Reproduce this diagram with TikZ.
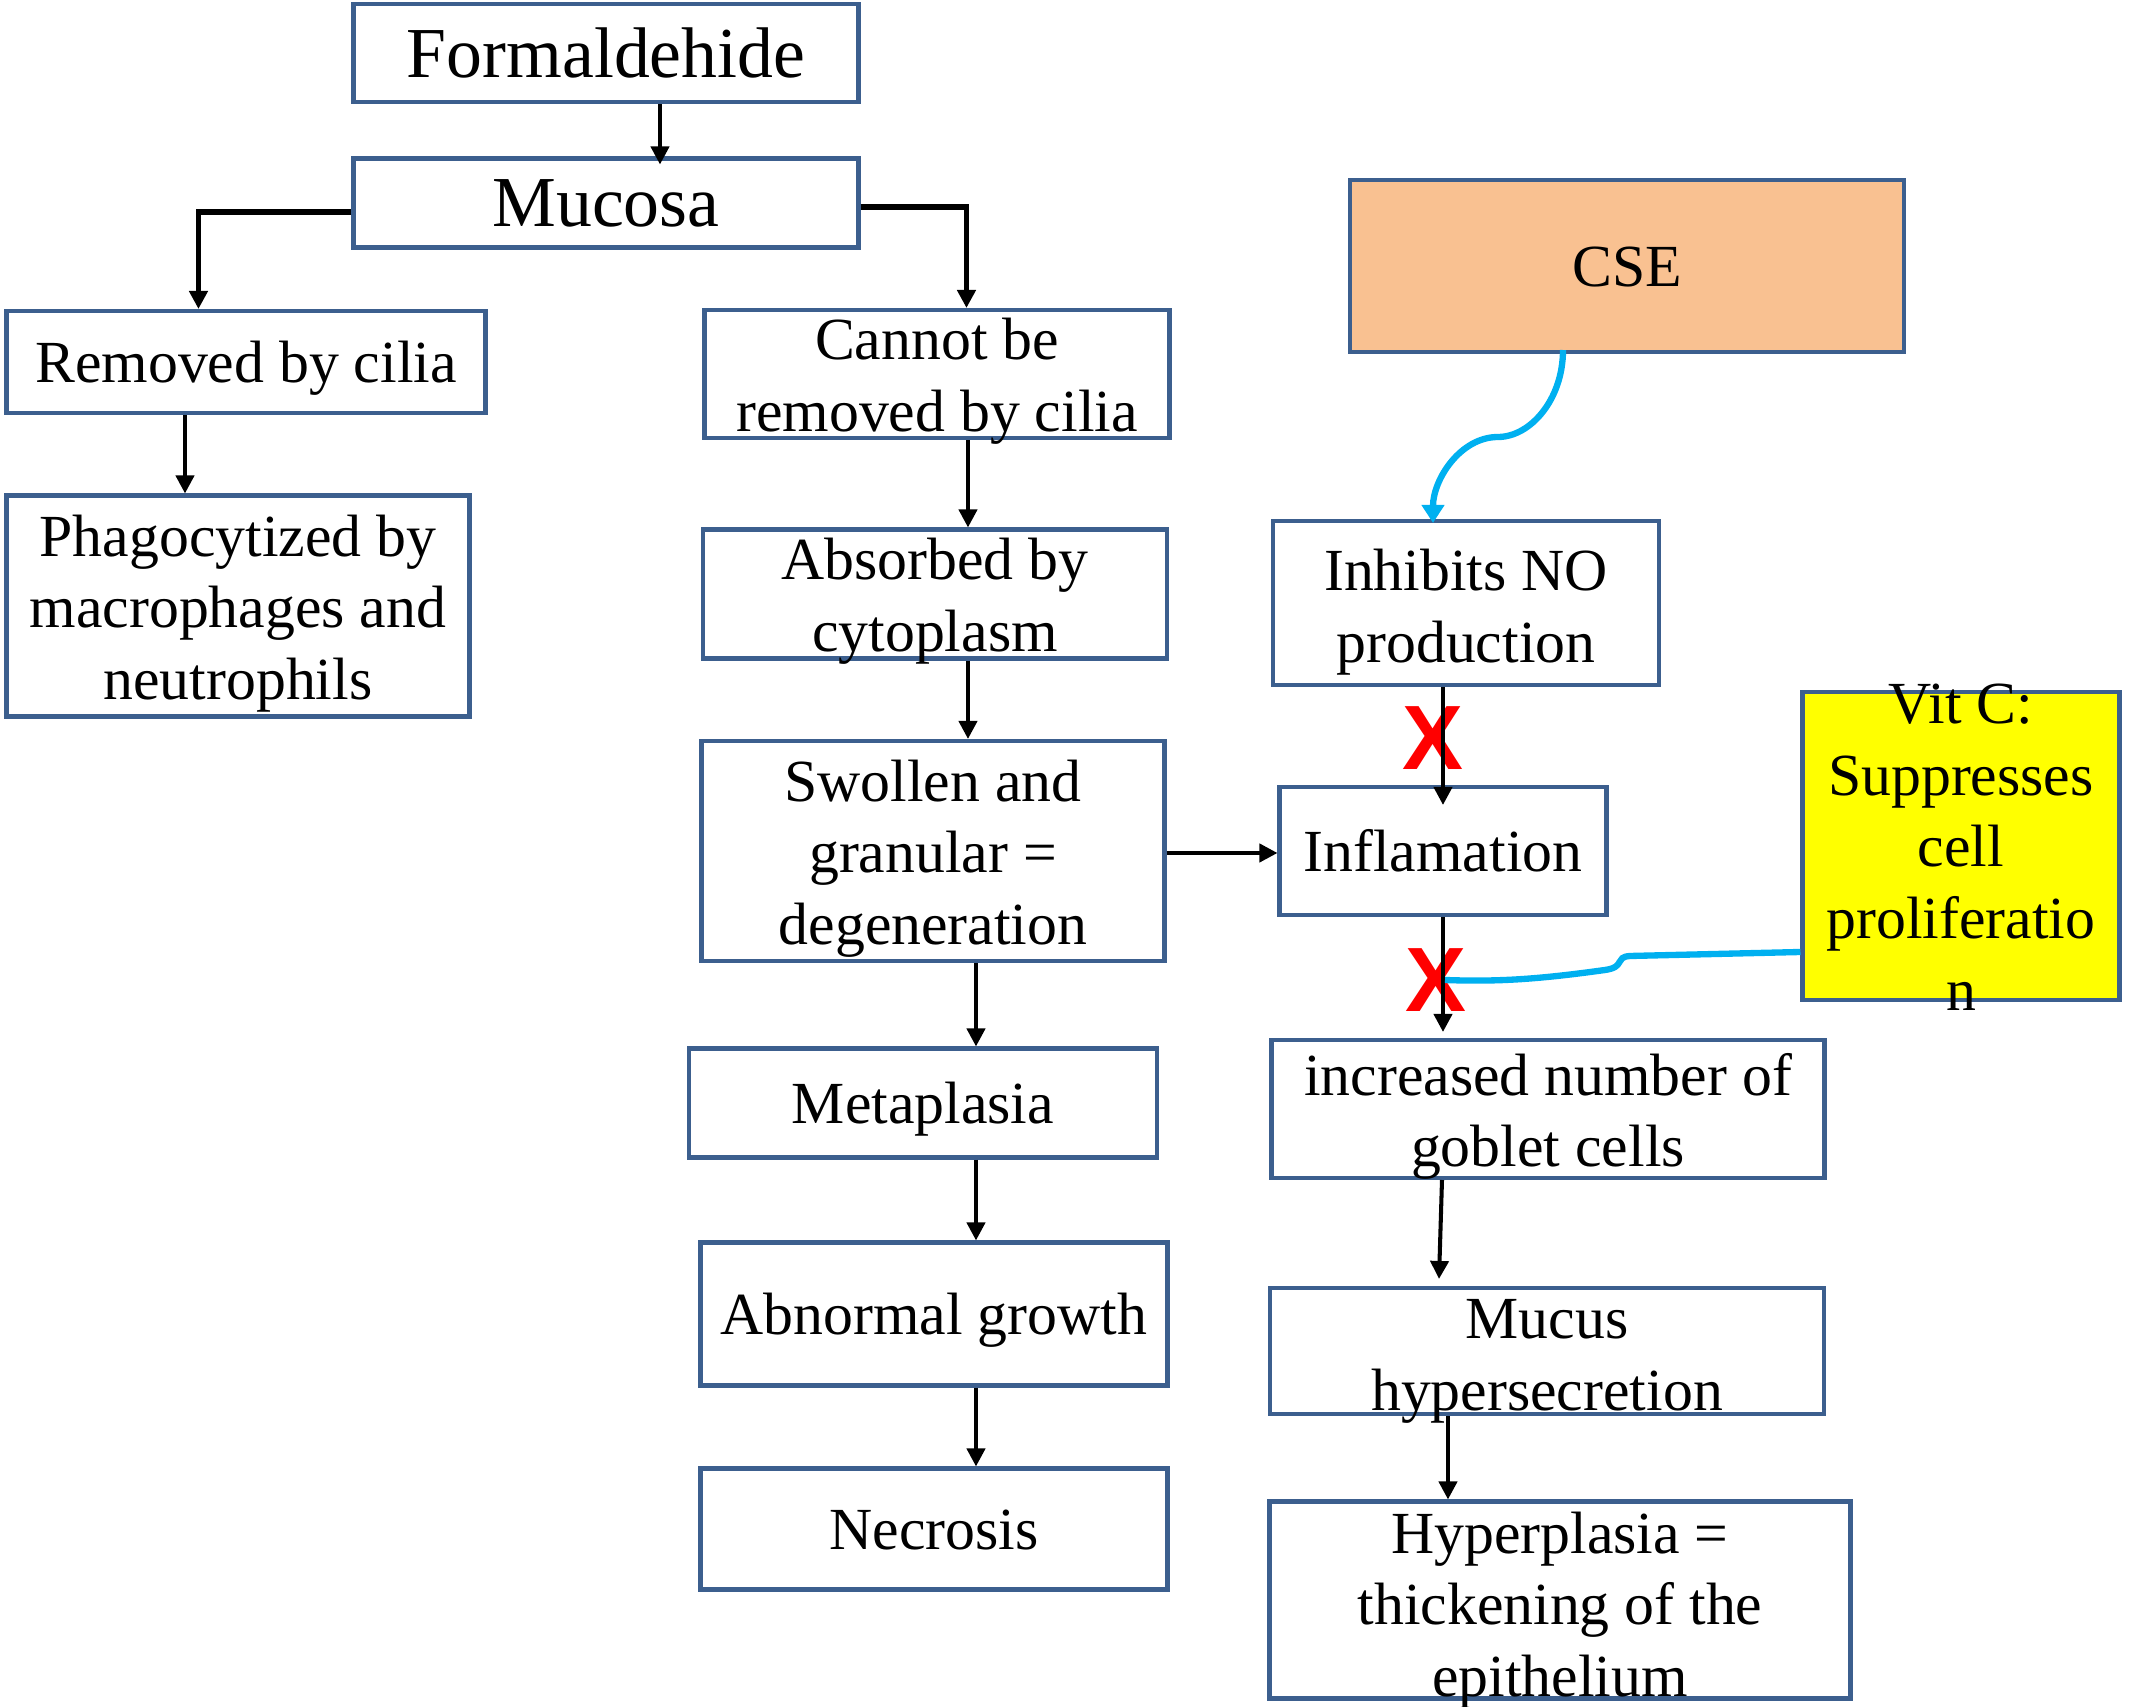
\documentclass[tikz,border=0pt]{standalone}
\usepackage{fontspec}
\setmainfont{Liberation Serif}
\setsansfont{Liberation Sans}
\usetikzlibrary{calc,arrows.meta}
\definecolor{boxblue}{HTML}{3C5F8E}
\definecolor{cseorange}{HTML}{F9C191}
\definecolor{vityellow}{HTML}{FFFF00}
\definecolor{linkblue}{HTML}{00B0F0}
\newcommand{\lnstrut}{\rule[-3.7pt]{0pt}{18.8pt}}

\begin{document}
\begin{tikzpicture}[
  box/.style={draw=boxblue, line width=1.15pt, inner sep=0pt},
  txt/.style={align=center, font=\fontsize{17}{20.4}\selectfont, inner sep=0pt,
    execute at begin node=\lnstrut, execute at end node=\lnstrut},
  multi/.style={txt, yshift=-0.075cm},
  bigtxt/.style={font=\fontsize{20.4}{24}\selectfont, inner sep=0pt},
  arr/.style={-{Triangle[length=0.18cm,width=0.18cm]}, line width=1.15pt},
  link/.style={draw=linkblue, line width=1.8pt},
  cross/.style={text=red, font=\fontsize{26}{26}\sffamily\bfseries, inner sep=0pt}]
      \useasboundingbox (0,0) rectangle (21.32,-17.07);

      % left and middle column
      \node[box, minimum width=5.05cm, minimum height=0.98cm] (form) at (6.06,-0.53) {};
      \node[bigtxt] (formtxt) at (form) {Formaldehide};
      \node[box, minimum width=5.05cm, minimum height=0.89cm] (mucosa) at (6.06,-2.03) {};
      \node[bigtxt] (mucosatxt) at (mucosa) {Mucosa};
      \node[box, minimum width=4.79cm, minimum height=1.02cm] (removed) at (2.46,-3.62) {};
      \node[txt] (removedtxt) at (removed) {Removed by cilia};
      \node[box, minimum width=4.63cm, minimum height=2.21cm] (phago) at (2.38,-6.06) {};
      \node[multi] (phagotxt) at (phago) {Phagocytized by\\macrophages and\\neutrophils};
      \node[box, minimum width=4.65cm, minimum height=1.28cm] (cannot) at (9.37,-3.74) {};
      \node[multi] (cannottxt) at (cannot) {Cannot be\\removed by cilia};
      \node[box, minimum width=4.64cm, minimum height=1.29cm] (absorbed) at (9.35,-5.94) {};
      \node[multi] (absorbedtxt) at (absorbed) {Absorbed by\\cytoplasm};
      \node[box, minimum width=4.63cm, minimum height=2.20cm] (swollen) at (9.33,-8.51) {};
      \node[multi] (swollentxt) at (swollen) {Swollen and\\granular =\\degeneration};
      \node[box, minimum width=4.68cm, minimum height=1.09cm] (meta) at (9.23,-11.03) {};
      \node[txt] (metatxt) at (meta) {Metaplasia};
      \node[box, minimum width=4.67cm, minimum height=1.43cm] (abnormal) at (9.34,-13.14) {};
      \node[txt] (abnormaltxt) at (abnormal) {Abnormal growth};
      \node[box, minimum width=4.67cm, minimum height=1.21cm] (necrosis) at (9.34,-15.29) {};
      \node[txt] (necrosistxt) at (necrosis) {Necrosis};

      % right column
      \node[box, fill=cseorange, minimum width=5.54cm, minimum height=1.72cm] (cse) at (16.27,-2.66) {};
      \node[txt] (csetxt) at (cse) {CSE};
      \node[box, minimum width=3.86cm, minimum height=1.64cm] (inhibits) at (14.66,-6.03) {};
      \node[multi] (inhibitstxt) at ($(inhibits)+(0,-0.02)$) {Inhibits NO\\production};
      \node[box, minimum width=3.27cm, minimum height=1.28cm] (inflam) at (14.43,-8.51) {};
      \node[txt] (inflamtxt) at (inflam) {Inflamation};
      \node[box, fill=vityellow, minimum width=3.17cm, minimum height=3.08cm] (vitc) at (19.61,-8.46) {};
      \node[multi] (vitctxt) at (vitc) {Vit C:\\Suppresses\\cell\\proliferatio\\n};
      \node[box, minimum width=5.53cm, minimum height=1.38cm] (increased) at (15.48,-11.09) {};
      \node[multi] (increasedtxt) at (increased) {increased number of\\goblet cells};
      \node[box, minimum width=5.54cm, minimum height=1.26cm] (mucus) at (15.47,-13.51) {};
      \node[multi] (mucustxt) at ($(mucus)+(0,-0.03)$) {Mucus\\hypersecretion};
      \node[box, minimum width=5.81cm, minimum height=1.97cm] (hyper) at (15.60,-16.00) {};
      \node[multi] (hypertxt) at ($(hyper)+(0,-0.03)$) {Hyperplasia =\\thickening of the\\epithelium};

      \node[cross] (x1) at (14.33,-7.38) {X};
      \node[cross] (x2) at (14.36,-9.80) {X};

      % arrows
      \draw[arr] (form.south -| 6.60,0) -- ($(mucosa.north -| 6.60,0)+(0,-0.08)$);
      \draw[arr, line width=1.5pt] ($(mucosa.west)+(0,-0.09)$) -| ($(removed.north west)+(1.94,0)$);
      \draw[arr, line width=1.5pt] ($(mucosa.east)+(0,-0.04)$) -| ($(cannot.north west)+(2.64,0)$);
      \draw[arr] (removed.south -| 1.85,0) -- (phago.north -| 1.85,0);
      \draw[arr] (cannot.south -| 9.68,0) -- (absorbed.north -| 9.68,0);
      \draw[arr] (absorbed.south -| 9.68,0) -- (swollen.north -| 9.68,0);
      \draw[arr] (swollen.south -| 9.76,0) -- (meta.north -| 9.76,0);
      \draw[arr] (meta.south -| 9.76,0) -- (abnormal.north -| 9.76,0);
      \draw[arr] (abnormal.south -| 9.76,0) -- (necrosis.north -| 9.76,0);
      \draw[arr] ($(swollen.east)+(0,-0.02)$) -- ($(inflam.west)+(0,-0.02)$);
      \draw[arr] (inhibits.south -| inflam.north) -- ($(inflam.north)+(0,-0.2)$);
      \draw[arr] (inflam.south) -- ($(increased.north -| inflam.south)+(0,0.06)$);
      \draw[arr] (increased.south -| 14.42,0) -- ($(mucus.north -| 14.39,0)+(0,0.07)$);
      \draw[arr] (mucus.south -| 14.48,0) -- (hyper.north -| 14.48,0);

      % blue links
      \draw[link, -{Triangle[length=0.18cm,width=0.22cm]}] ($(cse.south)+(-0.64,0.04)$) .. controls (15.63,-4.0) and (15.30,-4.37) .. (14.98,-4.37) .. controls (14.60,-4.37) and (14.33,-4.80) .. ($(inhibits.north)+(-0.33,-0.04)$);
      \draw[link] ($(vitc.west)+(0,-1.06)$) -- (16.30,-9.56) .. controls (16.14,-9.57) and (16.26,-9.67) .. (16.05,-9.70) .. controls (15.40,-9.79) and (15.00,-9.82) .. ($(x2.center)+(0.09,0)$);
\end{tikzpicture}
\end{document}
